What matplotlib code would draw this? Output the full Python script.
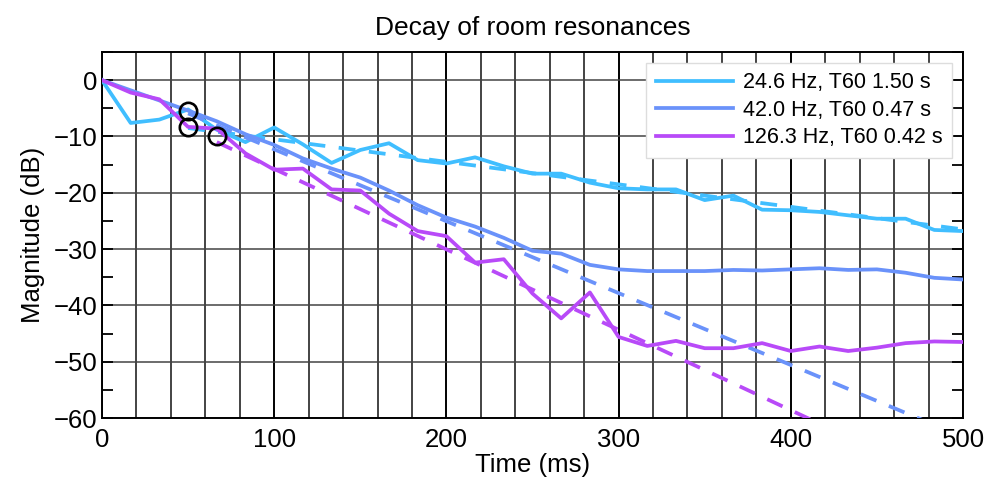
import numpy as np
import matplotlib
matplotlib.use("Agg")
import matplotlib.pyplot as plt
from matplotlib.ticker import MultipleLocator

plt.rcParams['font.family'] = ['Liberation Sans', 'DejaVu Sans']

# time axis: one sample every 1/60 s, 0..500 ms
t_ms = np.arange(31) * 500 / 30

mag_24 = [0, -7.6, -7.0, -5.2, -8.8, -11.0, -8.4, -11.4, -14.7, -12.4, -11.2,
          -14.2, -14.8, -13.7, -15.3, -16.6, -16.6, -18.2, -19.2, -19.4, -19.4,
          -21.3, -20.5, -23.0, -23.1, -23.4, -24.0, -24.6, -24.6, -26.6, -26.8]
mag_42 = [0, -1.8, -3.6, -5.4, -7.3, -9.6, -11.5, -13.9, -15.7, -17.3, -19.6,
          -22.2, -24.4, -26.0, -28.0, -30.3, -30.8, -32.8, -33.6, -33.9, -33.9,
          -33.9, -33.7, -33.8, -33.6, -33.4, -33.7, -33.6, -34.2, -35.1, -35.4]
mag_126 = [0, -2.2, -3.4, -8.3, -8.6, -13.0, -15.9, -15.7, -19.4, -19.6, -23.7,
           -26.8, -27.7, -32.4, -31.8, -37.9, -42.3, -37.7, -45.6, -47.2, -46.3,
           -47.6, -47.6, -46.7, -48.1, -47.3, -48.1, -47.5, -46.7, -46.4, -46.5]

labels = ["24.6 Hz, T60 1.50 s", "42.0 Hz, T60 0.47 s", "126.3 Hz, T60 0.42 s"]
t60_s = [1.50, 0.47, 0.42]
fit_t0 = [50, 50, 66.7]
fit_db0 = [-8.5, -5.9, -11.0]
circ_t = [50, 50, 66.7]
circ_db = [-5.4, -8.4, -9.9]

colors = ["#40BEFF", "#6A92FA", "#B84AF8"]

fig = plt.figure(figsize=(9.93, 4.88), dpi=100)
ax = fig.add_axes([0.1027, 0.1434, 0.8671, 0.75])

for mag, lab, col, T, t0, d0 in zip([mag_24, mag_42, mag_126], labels, colors,
                                     t60_s, fit_t0, fit_db0):
    ax.plot(t_ms, mag, color=col, lw=2.7, label=lab, zorder=3)
    tf = np.array([t0, 500])
    ax.plot(tf, d0 - 60 / (T * 1000) * (tf - t0), color=col, lw=2.7,
            dashes=(4.5, 3.6), zorder=3)

ax.plot(circ_t, circ_db, 'o', ms=12.5, mfc='none', mec='black', mew=1.9, zorder=4)

ax.set_xlim(0, 500)
ax.set_ylim(-60, 5)
ax.xaxis.set_major_locator(MultipleLocator(100))
ax.xaxis.set_minor_locator(MultipleLocator(20))
ax.yaxis.set_major_locator(MultipleLocator(10))
ax.yaxis.set_minor_locator(MultipleLocator(5))
ax.grid(which='major', axis='x', color='black', lw=1.4)
ax.grid(which='minor', axis='x', color='#111111', lw=1.1)
ax.grid(which='major', axis='y', color='#444444', lw=1.1)
ax.tick_params(which='both', direction='in', right=True, labelsize=18.5,
               width=1.3, color='black')
ax.tick_params(which='major', length=8)
ax.tick_params(which='minor', length=8)
ax.tick_params(axis='x', which='both', length=0, pad=7)
for s in ax.spines.values():
    s.set_linewidth(1.4)

ax.set_xlabel("Time (ms)", fontsize=18.5, labelpad=1)
ax.set_ylabel("Magnitude (dB)", fontsize=18.5, labelpad=6)
ax.set_title("Decay of room resonances", fontsize=19, pad=12)

leg = ax.legend(loc='upper right', fontsize=15.5, fancybox=False, framealpha=1,
                edgecolor='#dddddd', handlelength=3.6, handletextpad=0.45,
                borderpad=0.45, labelspacing=0.3, borderaxespad=0.5)
leg.get_frame().set_linewidth(1.0)

fig.savefig("out.png", dpi=100)
